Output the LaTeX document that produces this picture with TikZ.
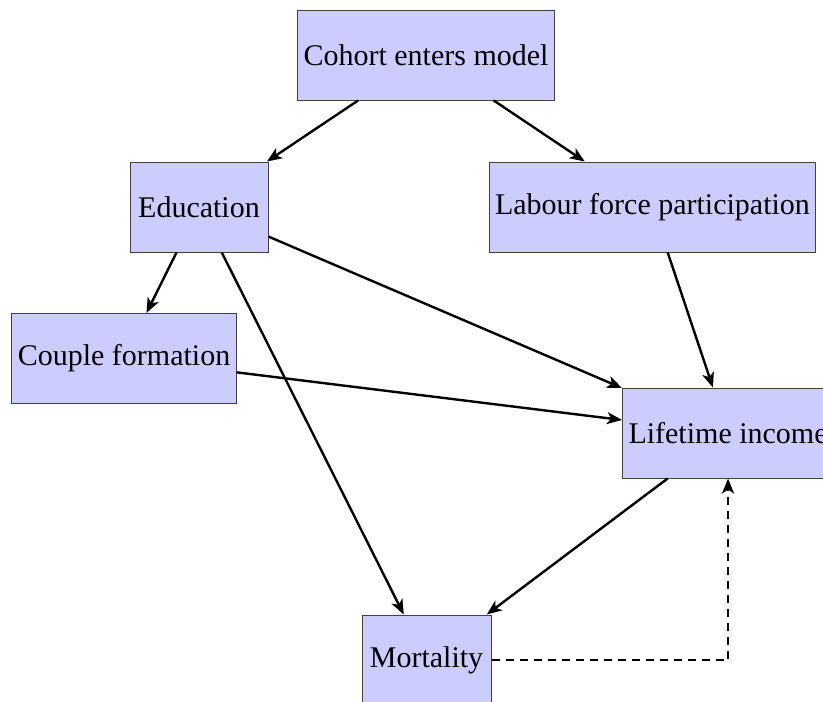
\documentclass[tikz,border=0pt]{standalone}
\usepackage{fontspec}
\setmainfont{Liberation Serif}
\usetikzlibrary{arrows.meta}
\begin{document}
\begin{tikzpicture}[x=1pt,y=-1pt,
  box/.style={draw=black!75, line width=1pt, fill=blue!20, inner xsep=6pt,
    minimum height=90pt, font=\fontsize{30}{36}\selectfont},
  arr/.style={line width=2.4pt, -{Stealth[length=15pt,width=12pt,inset=4pt]}},
  dasharr/.style={arr, dash pattern=on 8pt off 6pt}]
\useasboundingbox (0,0) rectangle (823,702);
\node[box] (cohort) at (426,55) {Cohort enters model};
\node[box, minimum width=138pt] (edu) at (199,207) {Education};
\node[box] (labour) at (652.5,207) {Labour force participation};
\node[box] (couple) at (124,358.5) {Couple formation};
\node[box, anchor=west] (life) at (622,433) {Lifetime income};
\node[box, minimum width=129pt] (mort) at (426.5,660) {Mortality};
\draw[arr] (cohort) -- (edu);
\draw[arr] (cohort) -- (labour);
\draw[arr] (edu) -- (couple);
\draw[arr] (edu) -- (mort);
\draw[arr] (edu) -- (life);
\draw[arr] (couple) -- (life);
\draw[arr] (labour) -- (life);
\draw[arr] (life) -- (mort);
\draw[dasharr] (mort.east) -| (life.south);
\end{tikzpicture}
\end{document}
